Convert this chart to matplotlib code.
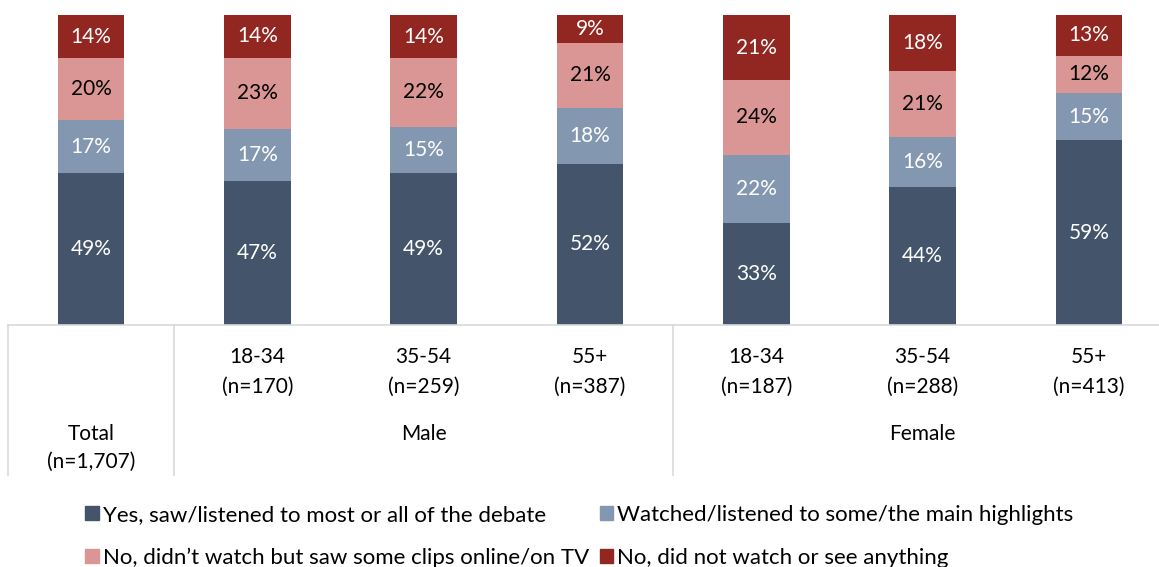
import numpy as np
import matplotlib.pyplot as plt
import matplotlib.transforms as mtransforms
from matplotlib.patches import Patch

plt.rcParams['font.family'] = ['Lato', 'DejaVu Sans']

# data
groups = ['Total', 'Male', 'Male', 'Male', 'Female', 'Female', 'Female']
ages = ['', '18-34', '35-54', '55+', '18-34', '35-54', '55+']
sizes = ['(n=1,707)', '(n=170)', '(n=259)', '(n=387)', '(n=187)', '(n=288)', '(n=413)']
saw_all = [49, 47, 49, 52, 33, 44, 59]
highlights = [17, 17, 15, 18, 22, 16, 15]
clips = [20, 23, 22, 21, 24, 21, 12]
nothing = [14, 14, 14, 9, 21, 18, 13]

series = [saw_all, highlights, clips, nothing]
names = ['Yes, saw/listened to most or all of the debate',
         'Watched/listened to some/the main highlights',
         'No, didn\u2019t watch but saw some clips online/on TV',
         'No, did not watch or see anything']
colors = ['#44546A', '#8497B0', '#DA9694', '#922621']
text_colors = ['white', 'white', 'black', 'white']

FS = 15
W, H = 1159, 567
fig = plt.figure(figsize=(W / 100, H / 100), dpi=100)
ax = fig.add_axes([8 / W, 1 - 325 / H, 1164 / W, 310 / H])

x = np.arange(len(ages))
totals = np.sum(series, axis=0)  # 100% stacked: each bar fills the full height
bottom = np.zeros(len(ages))
for vals, col, tc in zip(series, colors, text_colors):
    vals = np.array(vals, dtype=float)
    h = vals / totals * 100
    ax.bar(x, h, 0.4, bottom=bottom, color=col)
    for xi, b, hh, v in zip(x, bottom, h, vals):
        ax.text(xi, b + hh / 2, f'{int(v)}%', ha='center', va='center',
                color=tc, fontsize=FS)
    bottom += h

ax.set_xlim(-0.5, len(ages) - 0.5)
ax.set_ylim(0, 100)
ax.axis('off')

# category "table" under the bars
trans = mtransforms.blended_transform_factory(ax.transData, ax.transAxes)
line_kw = dict(color='#D9D9D9', lw=1.2, transform=trans, clip_on=False)
ax.plot([-0.5, len(ages) - 0.5], [0, 0], **line_kw)
for i in range(len(groups)):
    if i == 0 or groups[i] != groups[i - 1]:
        ax.plot([i - 0.5, i - 0.5], [0, -0.485], **line_kw)

for i, (a, n) in enumerate(zip(ages, sizes)):
    if a:
        ax.text(i, -0.103, a, ha='center', va='center', fontsize=FS, transform=trans)
        ax.text(i, -0.2, n, ha='center', va='center', fontsize=FS, transform=trans)

for g in dict.fromkeys(groups):
    idx = [i for i, gg in enumerate(groups) if gg == g]
    cx = np.mean(idx)
    ax.text(cx, -0.352, g, ha='center', va='center', fontsize=FS, transform=trans)
    if g == 'Total':
        ax.text(cx, -0.442, sizes[idx[0]], ha='center', va='center', fontsize=FS, transform=trans)

# legend filled row by row
order = [0, 2, 1, 3]
handles = [Patch(color=colors[i]) for i in order]
labels = [names[i] for i in order]
fig.legend(handles, labels, ncol=2, loc='upper center', bbox_to_anchor=(0.5, 1 - 485 / H),
           frameon=False, fontsize=16, handlelength=0.6, handleheight=0.6,
           handletextpad=0.2, columnspacing=0.45, labelspacing=1.02)

fig.savefig('out.png', dpi=100)
